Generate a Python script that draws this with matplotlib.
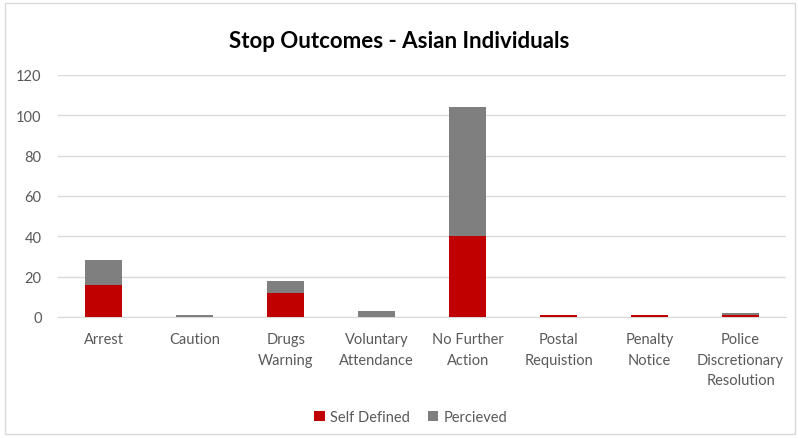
#!/usr/bin/env python3
"""Stop outcomes for Asian individuals, self-defined vs perceived (stacked)."""

import matplotlib

matplotlib.use("Agg")
import matplotlib.pyplot as plt
import numpy as np
from matplotlib.patches import Rectangle

CATEGORIES = [
    "Arrest",
    "Caution",
    "Drugs\nWarning",
    "Voluntary\nAttendance",
    "No Further\nAction",
    "Postal\nRequistion",
    "Penalty\nNotice",
    "Police\nDiscretionary\nResolution",
]
SELF_DEFINED = [16, 0, 12, 0, 40, 1, 1, 1]
PERCIEVED = [12, 1, 6, 3, 64, 0, 0, 1]
Y_TICKS = [0, 20, 40, 60, 80, 100, 120]

RED = "#C00000"
GREY = "#7F7F7F"
TEXT = "#595959"

plt.rcParams["font.family"] = ["Lato", "DejaVu Sans"]

fig = plt.figure(figsize=(7.98, 4.39), dpi=100)
ax = fig.add_axes([0.073, 0.276, 0.912, 0.551])

x = np.arange(len(CATEGORIES))
width = 0.41
ax.bar(x, SELF_DEFINED, width, color=RED, label="Self Defined", zorder=3)
ax.bar(x, PERCIEVED, width, bottom=SELF_DEFINED, color=GREY,
       label="Percieved", zorder=3)

ax.set_xlim(-0.5, len(CATEGORIES) - 0.5)
ax.set_ylim(0, 120)
ax.set_yticks(Y_TICKS)
ax.set_xticks(x)
ax.set_xticklabels(CATEGORIES, fontsize=10.5, color=TEXT, linespacing=1.6,
                   va="top")
ax.tick_params(axis="y", labelsize=10.5, labelcolor=TEXT, length=0, pad=12)
ax.tick_params(axis="x", length=0, pad=11)
ax.grid(axis="y", color="#D9D9D9", lw=1.0, zorder=0)
for side in ["top", "right", "left"]:
    ax.spines[side].set_visible(False)
ax.spines["bottom"].set_color("#D9D9D9")

fig.text(0.5, 0.905, "Stop Outcomes - Asian Individuals", ha="center",
         va="center", fontsize=16, fontweight="bold", color="black")

fig.legend(loc="center", bbox_to_anchor=(0.515, 0.048), ncol=2,
           frameon=False, fontsize=10.5, handlelength=0.7, handleheight=0.7,
           columnspacing=1.2, handletextpad=0.4, labelcolor=TEXT)

fig.patches.append(Rectangle((0.006, 0.008), 0.99, 0.984,
                             transform=fig.transFigure, fill=False,
                             edgecolor="#D9D9D9", lw=1.0))

fig.savefig("out.png", dpi=100)
